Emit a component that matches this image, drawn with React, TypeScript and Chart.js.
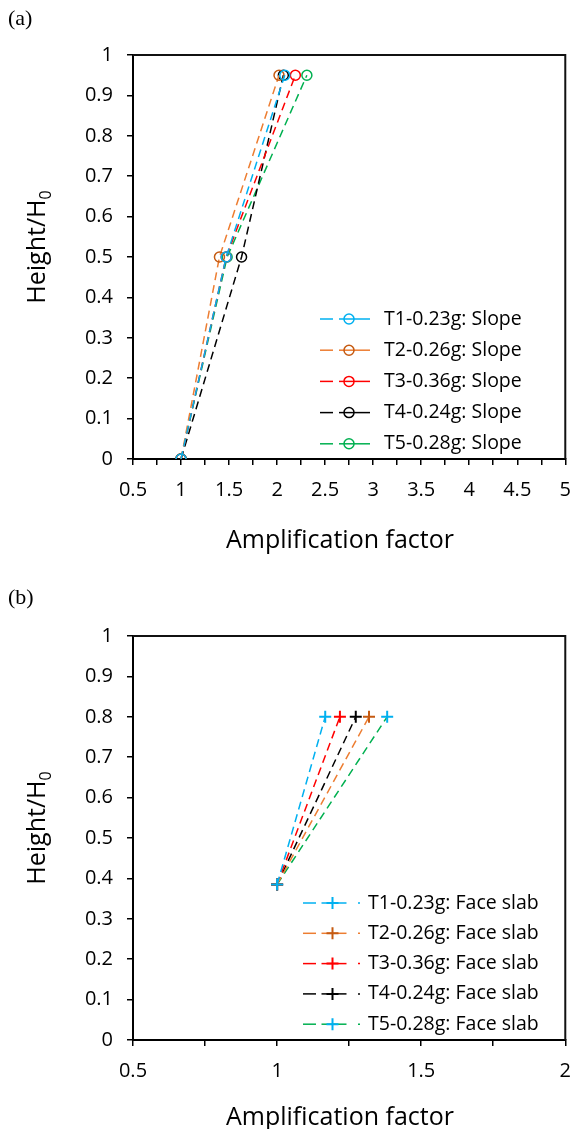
import React, { useEffect, useRef } from 'react';
import { Chart, registerables } from 'chart.js';

Chart.register(...registerables);

const FONT = '"Open Sans", sans-serif';

// ---------- (a) Slope ----------
const slopeHeights = [0, 0.5, 0.95];
const slopeT1 = [1, 1.47, 2.08];
const slopeT2 = [1, 1.4, 2.02];
const slopeT3 = [1, 1.47, 2.19];
const slopeT4 = [1, 1.63, 2.065];
const slopeT5 = [1, 1.48, 2.31];
const slopeLabels = [
  'T1-0.23g: Slope',
  'T2-0.26g: Slope',
  'T3-0.36g: Slope',
  'T4-0.24g: Slope',
  'T5-0.28g: Slope',
];

// ---------- (b) Face slab ----------
const slabHeights = [0.385, 0.8];
const slabT1 = [1, 1.167];
const slabT2 = [1, 1.319];
const slabT3 = [1, 1.218];
const slabT4 = [1, 1.273];
const slabT5 = [1, 1.382];
const slabLabels = [
  'T1-0.23g: Face slab',
  'T2-0.26g: Face slab',
  'T3-0.36g: Face slab',
  'T4-0.24g: Face slab',
  'T5-0.28g: Face slab',
];

// axis ranges
const slopeXRange = [0.5, 5];
const slabXRange = [0.5, 2];
const yRange = [0, 1];
const xTickStep = 0.25;
const xLabelStep = 0.5;
const yTickStep = 0.1;

const lineColors = ['#00B0F0', '#ED7D31', '#FF0000', '#000000', '#00B050'];
const slopeMarkerColors = ['#00B0F0', '#C55A11', '#FF0000', '#000000', '#00B050'];
const slabMarkerColors = ['#00B0F0', '#C55A11', '#FF0000', '#000000', '#00B0F0'];

const CANVAS_W = 584;
const PLOT_LEFT = 133;
const PLOT_RIGHT = 567;
const PLOT_TOP = 55;
const PLOT_BOTTOM = 459;

function fmt(v: number) {
  return String(parseFloat(v.toFixed(2)));
}

function drawMarker(ctx: CanvasRenderingContext2D, style: string, x: number, y: number, r: number, color: string) {
  ctx.save();
  ctx.setLineDash([]);
  ctx.strokeStyle = color;
  ctx.lineWidth = style === 'cross' ? 2 : 1.5;
  ctx.beginPath();
  if (style === 'cross') {
    ctx.moveTo(x - r, y);
    ctx.lineTo(x + r, y);
    ctx.moveTo(x, y - r);
    ctx.lineTo(x, y + r);
  } else {
    ctx.arc(x, y, r, 0, Math.PI * 2);
  }
  ctx.stroke();
  ctx.restore();
}

const insideLegend = {
  id: 'insideLegend',
  afterDatasetsDraw(chart: any, _args: any, opts: any) {
    if (!opts || !opts.items) return;
    const ctx: CanvasRenderingContext2D = chart.ctx;
    ctx.save();
    opts.items.forEach((it: any, i: number) => {
      const y = opts.top + i * opts.rowGap;
      ctx.strokeStyle = it.lineColor;
      ctx.lineWidth = 1.5;
      ctx.setLineDash([]);
      opts.segments.forEach((seg: number[]) => {
        ctx.beginPath();
        ctx.moveTo(opts.x + seg[0], y);
        ctx.lineTo(opts.x + seg[1], y);
        ctx.stroke();
      });
      drawMarker(ctx, opts.markerStyle, opts.x + opts.markerX, y, opts.markerR, it.markerColor);
      ctx.fillStyle = '#000';
      ctx.font = opts.font;
      ctx.textAlign = 'left';
      ctx.textBaseline = 'middle';
      ctx.fillText(it.label, opts.textX, y);
    });
    ctx.restore();
  },
};

const frame = {
  id: 'frame',
  afterDraw(chart: any) {
    const { ctx, chartArea } = chart;
    ctx.save();
    ctx.strokeStyle = '#111';
    ctx.lineWidth = 2;
    ctx.beginPath();
    ctx.moveTo(chartArea.left, chartArea.top);
    ctx.lineTo(chartArea.right, chartArea.top);
    ctx.lineTo(chartArea.right, chartArea.bottom);
    ctx.stroke();
    ctx.restore();
  },
};

function makeConfig(opts: {
  height: number;
  xRange: number[];
  heights: number[];
  series: number[][];
  labels: string[];
  markerColors: string[];
  markerStyle: string;
  markerR: number;
  legend: any;
}) {
  const datasets = opts.series.map((xs, i) => ({
    label: opts.labels[i],
    data: xs.map((x, j) => ({ x, y: opts.heights[j] })),
    showLine: true,
    borderColor: lineColors[i],
    borderWidth: 1.5,
    borderDash: [8, 5],
    pointStyle: opts.markerStyle,
    pointRadius: opts.markerR,
    pointBorderColor: opts.markerColors[i],
    pointBackgroundColor: 'rgba(0,0,0,0)',
    pointBorderWidth: opts.markerStyle === 'cross' ? 2 : 1.5,
    tension: 0,
  }));
  const tickFont = { family: FONT, size: 20 };
  return {
    type: 'scatter' as const,
    data: { datasets },
    plugins: [insideLegend, frame],
    options: {
      animation: false,
      responsive: false,
      events: [],
      layout: {
        padding: { top: PLOT_TOP, right: CANVAS_W - PLOT_RIGHT, left: 0, bottom: 0 },
      },
      plugins: {
        legend: { display: false },
        tooltip: { enabled: false },
        insideLegend: {
          ...opts.legend,
          items: opts.labels.map((label, i) => ({
            label,
            lineColor: lineColors[i],
            markerColor: opts.markerColors[i],
          })),
          markerStyle: opts.markerStyle,
          font: `19.5px ${FONT}`,
        },
      },
      scales: {
        x: {
          type: 'linear',
          min: opts.xRange[0],
          max: opts.xRange[1],
          afterFit: (s: any) => {
            s.height = opts.height - PLOT_BOTTOM;
          },
          ticks: {
            stepSize: xTickStep,
            autoSkip: false,
            maxRotation: 0,
            color: '#000',
            font: tickFont,
            padding: 13,
            callback: (v: number) => {
              const k = v / xLabelStep;
              return Math.abs(k - Math.round(k)) < 1e-6 ? fmt(v) : '';
            },
          },
          grid: {
            drawOnChartArea: false,
            drawTicks: true,
            tickLength: 6,
            color: '#000',
            lineWidth: 1.5,
          },
          border: { display: true, color: '#000', width: 2 },
        },
        y: {
          type: 'linear',
          min: yRange[0],
          max: yRange[1],
          afterFit: (s: any) => {
            s.width = PLOT_LEFT;
          },
          ticks: {
            stepSize: yTickStep,
            autoSkip: false,
            color: '#000',
            font: tickFont,
            padding: 14,
            callback: (v: number) => fmt(v),
          },
          grid: {
            drawOnChartArea: false,
            drawTicks: true,
            tickLength: 6,
            color: '#000',
            lineWidth: 1.5,
          },
          border: { display: true, color: '#000', width: 2 },
        },
      },
    },
  };
}

const TOP_H = 570;
const BOTTOM_TOP = 581;
const BOTTOM_H = 1129 - BOTTOM_TOP;

const titleStyle: React.CSSProperties = {
  position: 'absolute',
  font: `25px ${FONT}`,
  color: '#000',
  whiteSpace: 'nowrap',
  lineHeight: 1,
};

function YTitle({ cx, cy }: { cx: number; cy: number }) {
  return (
    <div
      style={{
        ...titleStyle,
        left: cx,
        top: cy,
        transform: 'translate(-50%, -50%) rotate(-90deg)',
      }}
    >
      Height/H
      <span style={{ fontSize: 16, position: 'relative', top: 6 }}>0</span>
    </div>
  );
}

function XTitle({ cx, cy }: { cx: number; cy: number }) {
  return (
    <div style={{ ...titleStyle, left: cx, top: cy, transform: 'translate(-50%, -50%)' }}>
      Amplification factor
    </div>
  );
}

export default function App() {
  const refA = useRef<HTMLCanvasElement>(null);
  const refB = useRef<HTMLCanvasElement>(null);

  useEffect(() => {
    const a = new Chart(
      refA.current as HTMLCanvasElement,
      makeConfig({
        height: TOP_H,
        xRange: slopeXRange,
        heights: slopeHeights,
        series: [slopeT1, slopeT2, slopeT3, slopeT4, slopeT5],
        labels: slopeLabels,
        markerColors: slopeMarkerColors,
        markerStyle: 'circle',
        markerR: 5,
        legend: {
          x: 320,
          top: 319,
          rowGap: 31.2,
          segments: [
            [0, 13],
            [19, 50],
          ],
          markerX: 29,
          markerR: 5,
          textX: 384,
        },
      }) as any
    );
    const b = new Chart(
      refB.current as HTMLCanvasElement,
      makeConfig({
        height: BOTTOM_H,
        xRange: slabXRange,
        heights: slabHeights,
        series: [slabT1, slabT2, slabT3, slabT4, slabT5],
        labels: slabLabels,
        markerColors: slabMarkerColors,
        markerStyle: 'cross',
        markerR: 6,
        legend: {
          x: 303,
          top: 322,
          rowGap: 30.3,
          segments: [
            [0, 13],
            [18.5, 43.5],
            [55, 57],
          ],
          markerX: 29.5,
          markerR: 6,
          textX: 368,
        },
      }) as any
    );
    return () => {
      a.destroy();
      b.destroy();
    };
  }, []);

  return (
    <div
      style={{
        position: 'fixed',
        left: 0,
        top: 0,
        width: 584,
        height: 1129,
        overflow: 'hidden',
        background: '#fff',
      }}
    >
      <canvas
        ref={refA}
        width={CANVAS_W}
        height={TOP_H}
        style={{ position: 'absolute', left: 0, top: 0, width: CANVAS_W, height: TOP_H }}
      />
      <canvas
        ref={refB}
        width={CANVAS_W}
        height={BOTTOM_H}
        style={{ position: 'absolute', left: 0, top: BOTTOM_TOP, width: CANVAS_W, height: BOTTOM_H }}
      />
      <div style={{ position: 'absolute', left: 8, top: 5, font: '22px "Liberation Serif", serif', color: '#000' }}>
        (a)
      </div>
      <div style={{ position: 'absolute', left: 8, top: 584, font: '22px "Liberation Serif", serif', color: '#000' }}>
        (b)
      </div>
      <YTitle cx={35} cy={247} />
      <XTitle cx={340} cy={538} />
      <YTitle cx={35} cy={828} />
      <XTitle cx={340} cy={1115} />
    </div>
  );
}
